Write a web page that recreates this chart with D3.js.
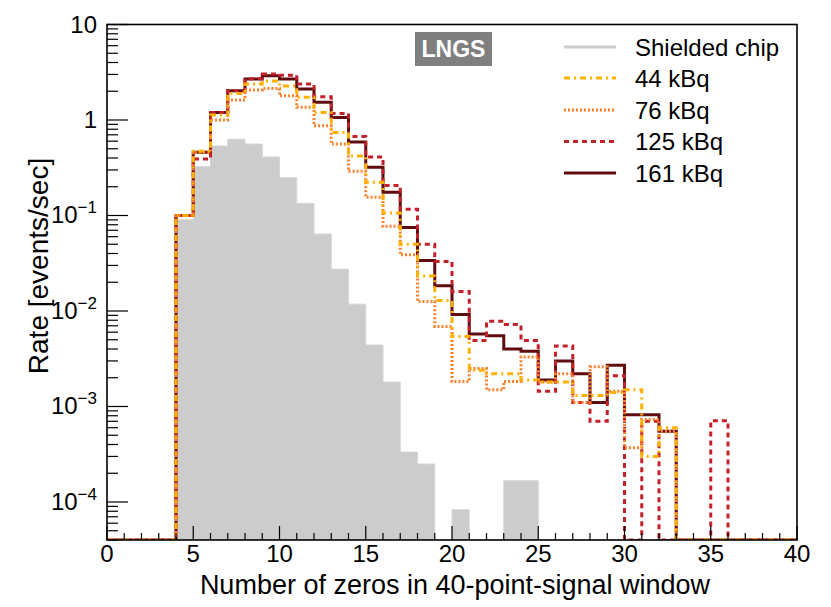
<!DOCTYPE html>
<html>
<head>
<meta charset="utf-8">
<script src="https://cdn.jsdelivr.net/npm/d3@7"></script>
<style>
  body { margin: 0; background: #fff; }
  text { font-family: "Liberation Sans", Arial, Helvetica, sans-serif; fill: #000; }
</style>
</head>
<body>
<svg id="canvas" width="831" height="607"></svg>
<script>
// bin edges 0..40, one value per bin (events/sec), 0 = empty bin
let shielded = [0, 0, 0, 0, 0.09, 0.325, 0.535, 0.63, 0.56, 0.41,
  0.25, 0.134, 0.064, 0.0274, 0.0118, 0.0044, 0.0018, 3.33e-4, 2.5e-4, 0,
  8.3e-5, 0, 0, 1.67e-4, 1.67e-4, 0, 0, 0, 0, 0,
  0, 0, 0, 0, 0, 0, 0, 0, 0, 0];
let kbq44 = [0, 0, 0, 0, 0.1, 0.47, 1.13, 1.9, 2.38, 2.56,
  2.27, 1.73, 1.2, 0.74, 0.42, 0.223, 0.106, 0.05, 0.0233, 0.0129,
  0.0054, 0.0024, 0.0022, 0.0022, 0.0019, 0.0018, 0.0018, 0.0013, 0.0013, 0.0014,
  0.0015, 3.0e-4, 6.0e-4, 0, 0, 0, 0, 0, 0, 0];
let kbq76 = [0, 0, 0, 0, 0.1, 0.46, 1.0, 1.62, 2.06, 2.14,
  1.79, 1.36, 0.87, 0.56, 0.29, 0.155, 0.077, 0.0387, 0.0126, 0.0069,
  0.00183, 0.0025, 0.0015, 0.00183, 0.0033, 0.0018, 0.0022, 0.0011, 0.0026, 0.00144,
  3.7e-4, 7.3e-4, 5.5e-4, 0, 0, 0, 0, 0, 0, 0];
let kbq125 = [0, 0, 0, 0, 0.1, 0.39, 1.2, 2.03, 2.7, 3.03,
  2.95, 2.38, 1.75, 1.17, 0.67, 0.41, 0.206, 0.116, 0.05, 0.033,
  0.016, 0.0049, 0.0078, 0.0072, 0.0049, 0.00144, 0.0043, 0.0011, 7.0e-4, 0.0021,
  0, 7.0e-4, 0, 0, 0, 7.1e-4, 0, 0, 0, 0];
let kbq161 = [0, 0, 0, 0, 0.1, 0.46, 1.2, 2.03, 2.69, 2.91,
  2.69, 2.11, 1.53, 1.06, 0.59, 0.32, 0.175, 0.075, 0.0337, 0.0184,
  0.0092, 0.00573, 0.0055, 0.004, 0.0038, 0.0019, 0.003, 0.0022, 0.0011, 0.0027,
  8.2e-4, 8.2e-4, 5.5e-4, 0, 0, 0, 0, 0, 0, 0];

let xTicks = [0, 5, 10, 15, 20, 25, 30, 35, 40];
let yTicks = [10, 1, 0.1, 0.01, 0.001, 0.0001];
let yTickLabels = [['10', ''], ['1', ''], ['10', '\u22121'], ['10', '\u22122'], ['10', '\u22123'], ['10', '\u22124']];

let seriesNames = ['Shielded chip', '44 kBq', '76 kBq', '125 kBq', '161 kBq'];
let seriesColors = ['#cccccc', '#ffb000', '#ff7f2a', '#c3202a', '#600d10'];
let seriesDash = [null, '6,4,2,4', '2,2', '5,4', null];

let canvas = d3.select('#canvas');

let pLeft = 107, pRight = 797, pTop = 24.5, pBottom = 540;
let yMin = 4e-5;

let x = d3.scaleLinear().domain([0, 40]).range([pLeft, pRight]);
let y = d3.scaleLog().domain([yMin, 10]).range([pBottom, pTop]).clamp(true);

canvas.append('defs').append('clipPath').attr('id', 'plotclip')
  .append('rect')
  .attr('x', pLeft).attr('y', pTop)
  .attr('width', pRight - pLeft).attr('height', pBottom - pTop);

let toPoints = (vals) => {
  let pts = vals.map((v, i) => [i, v]);
  pts.push([vals.length, vals[vals.length - 1]]);
  return pts;
};

let plot = canvas.append('g').attr('clip-path', 'url(#plotclip)');

// shielded chip: filled histogram
let area = d3.area()
  .curve(d3.curveStepAfter)
  .x((d) => x(d[0]))
  .y0(pBottom)
  .y1((d) => y(Math.max(d[1], yMin)));

plot.append('path')
  .attr('d', area(toPoints(shielded)))
  .attr('fill', '#cccccc')
  .attr('stroke', '#d6d6d6')
  .attr('stroke-width', 1);

let line = d3.line()
  .curve(d3.curveStepAfter)
  .x((d) => x(d[0]))
  .y((d) => y(Math.max(d[1], yMin)));

let lineSeries = [kbq161, kbq125, kbq76, kbq44];
let lineIdx = [4, 3, 2, 1];

lineSeries.forEach((vals, k) => {
  let i = lineIdx[k];
  plot.append('path')
    .attr('d', line(toPoints(vals)))
    .attr('fill', 'none')
    .attr('stroke', seriesColors[i])
    .attr('stroke-width', 3)
    .attr('stroke-dasharray', seriesDash[i]);
});

// frame
canvas.append('rect')
  .attr('x', pLeft).attr('y', pTop)
  .attr('width', pRight - pLeft).attr('height', pBottom - pTop)
  .attr('fill', 'none')
  .attr('stroke', '#000')
  .attr('stroke-width', 1.6);

// x ticks
let xMinor = d3.range(0, 41);
canvas.selectAll('.xminor')
  .data(xMinor)
  .enter()
  .append('line')
  .attr('x1', (d) => x(d)).attr('x2', (d) => x(d))
  .attr('y1', pBottom)
  .attr('y2', (d) => d % 5 === 0 ? pBottom - 14 : pBottom - 7)
  .attr('stroke', '#000')
  .attr('stroke-width', 1.2);

canvas.selectAll('.xlabel')
  .data(xTicks)
  .enter()
  .append('text')
  .attr('x', (d) => x(d))
  .attr('y', 562)
  .attr('text-anchor', 'middle')
  .attr('font-size', 24)
  .text((d) => d);

// y ticks
let yMinor = [];
for (let e = -5; e <= 0; e++) {
  for (let m = 1; m <= 9; m++) {
    let v = m * Math.pow(10, e);
    if (v >= yMin * 0.999 && v <= 10.001) yMinor.push({ v: v, major: m === 1 });
  }
}
yMinor.push({ v: 10, major: true });

canvas.selectAll('.ytick')
  .data(yMinor)
  .enter()
  .append('line')
  .attr('x1', pLeft)
  .attr('x2', (d) => d.major ? pLeft + 21 : pLeft + 11)
  .attr('y1', (d) => y(d.v)).attr('y2', (d) => y(d.v))
  .attr('stroke', '#000')
  .attr('stroke-width', 1.2);

yTicks.forEach((v, i) => {
  let lab = yTickLabels[i];
  let t = canvas.append('text')
    .attr('x', 97)
    .attr('y', y(v) + 8)
    .attr('text-anchor', 'end')
    .attr('font-size', 24);
  t.append('tspan').text(lab[0]);
  if (lab[1] !== '') {
    t.append('tspan')
      .attr('dy', -10)
      .attr('font-size', 17)
      .text(lab[1]);
  }
});

// axis titles
canvas.append('text')
  .attr('x', 455)
  .attr('y', 594)
  .attr('text-anchor', 'middle')
  .attr('font-size', 27)
  .text('Number of zeros in 40-point-signal window');

canvas.append('text')
  .attr('transform', 'translate(48,266) rotate(-90)')
  .attr('text-anchor', 'middle')
  .attr('font-size', 28)
  .text('Rate [events/sec]');

// LNGS label
canvas.append('rect')
  .attr('x', 415).attr('y', 32)
  .attr('width', 77).attr('height', 34)
  .attr('fill', '#7f7f7f');
canvas.append('text')
  .attr('x', 453.5).attr('y', 57)
  .attr('text-anchor', 'middle')
  .attr('font-size', 23)
  .attr('font-weight', 'bold')
  .style('fill', '#fff')
  .text('LNGS');

// legend
let legendY = [47, 78, 110, 141.5, 173];
let legend = canvas.append('g');
seriesNames.forEach((name, i) => {
  legend.append('line')
    .attr('x1', 564).attr('x2', 616)
    .attr('y1', legendY[i]).attr('y2', legendY[i])
    .attr('stroke', seriesColors[i])
    .attr('stroke-width', 3)
    .attr('stroke-dasharray', seriesDash[i]);
  legend.append('text')
    .attr('x', 635)
    .attr('y', legendY[i] + 8.5)
    .attr('font-size', 24)
    .text(name);
});
</script>
</body>
</html>
